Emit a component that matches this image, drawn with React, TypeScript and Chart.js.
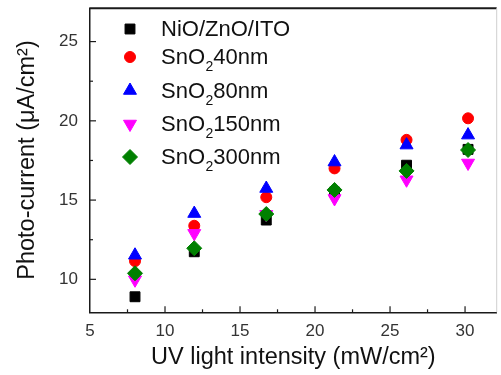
import React, { useEffect, useRef } from 'react';
import { Chart, registerables } from 'chart.js';
import { drawPoint } from 'chart.js/helpers';

Chart.register(...registerables);

// ---- data ----
const intensities = [8.0, 11.95, 16.75, 21.3, 26.1, 30.2];
const seriesLabels = ['NiO/ZnO/ITO', 'SnO₂40nm', 'SnO₂80nm', 'SnO₂150nm', 'SnO₂300nm'];
const nioZnoIto = [8.9, 11.74, 13.74, 15.5, 17.2, 18.2];
const sno2_40 = [11.15, 13.38, 15.18, 17.0, 18.8, 20.16];
const sno2_80 = [11.52, 14.15, 15.73, 17.4, 18.47, 19.1];
const sno2_150 = [9.97, 12.9, 14.1, 15.1, 16.28, 17.34];
const sno2_300 = [10.38, 11.96, 14.12, 15.64, 16.84, 18.16];
const xMajorTicks = [5, 10, 15, 20, 25, 30];
const xMinorTicks = [7.5, 12.5, 17.5, 22.5, 27.5];
const yMajorTicks = [10, 15, 20, 25];
const yMinorTicks = [12.5, 17.5, 22.5];
const xTitle = 'UV light intensity (mW/cm²)';
const yTitle = 'Photo-current (μA/cm²)';

const FONT = '"Liberation Sans", Arial, sans-serif';

const styles = [
  { color: '#000000', pointStyle: 'rect', radius: 7, rotation: 0, order: 5 },
  { color: '#ff0000', pointStyle: 'circle', radius: 5.5, rotation: 0, order: 4 },
  { color: '#0000ff', pointStyle: 'triangle', radius: 7.5, rotation: 0, order: 3 },
  { color: '#ff00ff', pointStyle: 'triangle', radius: 7.5, rotation: 180, order: 2 },
  { color: '#008000', pointStyle: 'rectRot', radius: 7.5, rotation: 0, order: 1 },
];
const seriesValues = [nioZnoIto, sno2_40, sno2_80, sno2_150, sno2_300];

const decorPlugin = {
  id: 'decor',
  afterDraw(chart: any) {
    const { ctx, chartArea: a, scales } = chart;
    const xs = scales.x;
    const ys = scales.y;
    ctx.save();
    // frame top & right
    ctx.strokeStyle = '#1a1a1a';
    ctx.lineWidth = 2;
    ctx.beginPath();
    ctx.moveTo(a.left - 0.75, a.top);
    ctx.lineTo(a.right, a.top);
    ctx.stroke();
    ctx.strokeStyle = '#cfcfcf';
    ctx.lineWidth = 1;
    ctx.beginPath();
    ctx.moveTo(a.right, a.top);
    ctx.lineTo(a.right, a.bottom);
    ctx.stroke();
    // inward ticks
    ctx.strokeStyle = '#1a1a1a';
    ctx.lineWidth = 1.2;
    const tick = (x1: number, y1: number, x2: number, y2: number) => {
      ctx.beginPath();
      ctx.moveTo(x1, y1);
      ctx.lineTo(x2, y2);
      ctx.stroke();
    };
    xMajorTicks.forEach((v) => {
      const p = xs.getPixelForValue(v);
      if (p > a.left + 1 && p < a.right) tick(p, a.bottom, p, a.bottom - 6);
    });
    xMinorTicks.forEach((v) => {
      const p = xs.getPixelForValue(v);
      if (p > a.left + 1 && p < a.right) tick(p, a.bottom, p, a.bottom - 3);
    });
    yMajorTicks.forEach((v) => {
      const p = ys.getPixelForValue(v);
      tick(a.left, p, a.left + 6, p);
    });
    yMinorTicks.forEach((v) => {
      const p = ys.getPixelForValue(v);
      tick(a.left, p, a.left + 3, p);
    });
    // axis titles
    ctx.fillStyle = '#111111';
    ctx.font = `23.5px ${FONT}`;
    ctx.textAlign = 'center';
    ctx.textBaseline = 'middle';
    ctx.fillText(xTitle, (a.left + a.right) / 2, 358);
    ctx.save();
    ctx.translate(28, 160);
    ctx.rotate(-Math.PI / 2);
    ctx.fillText(yTitle, 0, 0);
    ctx.restore();
    // legend
    const baselines = [36, 64, 97.5, 131, 164];
    ctx.textAlign = 'left';
    ctx.textBaseline = 'alphabetic';
    chart.data.datasets.forEach((ds: any, i: number) => {
      const st = styles[i];
      const by = baselines[i];
      ctx.fillStyle = st.color;
      ctx.strokeStyle = st.color;
      ctx.lineWidth = 1;
      drawPoint(ctx, { pointStyle: st.pointStyle, rotation: st.rotation, radius: st.radius, borderWidth: 1 } as any, a.left + 40, by - 7);
      ctx.fillStyle = '#111111';
      const parts = String(ds.label).split('₂');
      let tx = a.left + 71;
      ctx.font = `22px ${FONT}`;
      ctx.fillText(parts[0], tx, by);
      tx += ctx.measureText(parts[0]).width;
      if (parts.length > 1) {
        ctx.font = `14px ${FONT}`;
        ctx.fillText('2', tx + 0.5, by + 7);
        tx += ctx.measureText('2').width + 0.5;
        ctx.font = `22px ${FONT}`;
        ctx.fillText(parts[1], tx, by);
      }
    });
    ctx.restore();
  },
};

export default function App() {
  const ref = useRef<HTMLCanvasElement | null>(null);
  useEffect(() => {
    if (!ref.current) return;
    const chart = new Chart(ref.current, {
      type: 'scatter',
      data: {
        datasets: seriesValues.map((vals, i) => ({
          label: seriesLabels[i],
          data: intensities.map((x, j) => ({ x, y: vals[j] })),
          backgroundColor: styles[i].color,
          borderColor: styles[i].color,
          borderWidth: 1,
          pointStyle: styles[i].pointStyle as any,
          pointRadius: styles[i].radius,
          pointHoverRadius: styles[i].radius,
          rotation: styles[i].rotation,
          order: styles[i].order,
        })),
      },
      options: {
        responsive: false,
        animation: false,
        events: [],
        layout: { autoPadding: false, padding: { top: 8.3, right: 4.3, left: 0, bottom: 0 } },
        plugins: { legend: { display: false }, tooltip: { enabled: false } },
        scales: {
          x: {
            type: 'linear',
            min: 5,
            max: 32.11,
            afterFit: (s: any) => { s.height = 62.7; s.paddingLeft = 0; s.paddingRight = 0; },
            afterBuildTicks: (s: any) => { s.ticks = xMajorTicks.map((v) => ({ value: v })); },
            grid: { display: true, drawOnChartArea: false, drawTicks: false },
            border: { display: true, color: '#1a1a1a', width: 1.5 },
            ticks: { padding: 9, color: '#333333', font: { family: FONT, size: 17 }, maxRotation: 0, autoSkip: false },
          },
          y: {
            type: 'linear',
            min: 7.92,
            max: 27.1,
            afterFit: (s: any) => { s.width = 90; s.paddingTop = 0; s.paddingBottom = 0; },
            afterBuildTicks: (s: any) => { s.ticks = yMajorTicks.map((v) => ({ value: v })); },
            grid: { display: true, drawOnChartArea: false, drawTicks: false },
            border: { display: true, color: '#1a1a1a', width: 1.5 },
            ticks: { padding: 12, color: '#333333', font: { family: FONT, size: 17 }, autoSkip: false },
          },
        },
      },
      plugins: [decorPlugin],
    });
    return () => chart.destroy();
  }, []);
  return (
    <div style={{ position: 'fixed', left: 0, top: 0, width: 501, height: 375, background: '#fff' }}>
      <canvas ref={ref} width={501} height={375} style={{ width: 501, height: 375 }} />
    </div>
  );
}
